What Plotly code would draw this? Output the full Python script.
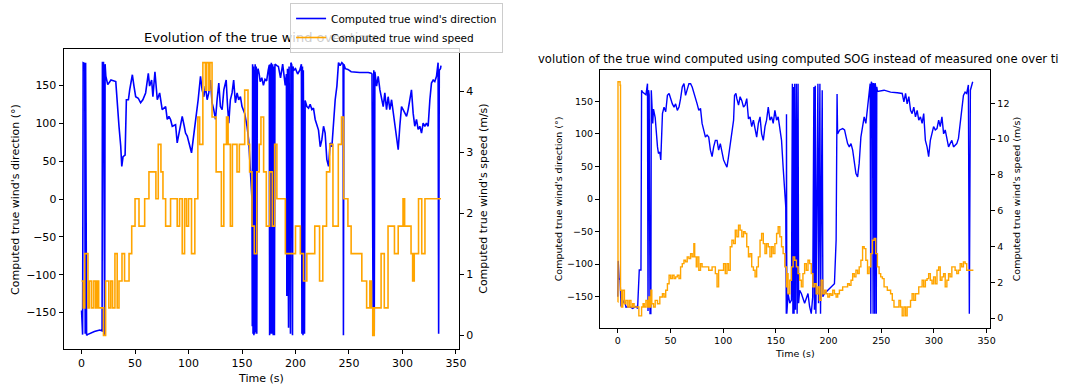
import plotly.graph_objects as go

# ---------------- Left chart: true wind (measured SOG) ----------------
left_dir_t = [0,1,1.5,3,3.4,3.8,4.7,5.5,12,17,
19.2,19.5,20.5,21,21.6,22,22.7,24.5,27.5,32,
33.5,35,36.6,37.6,38.8,40.7,41.9,43.8,45,47.5,
49,50.6,53,55.2,57.3,59.9,62.4,63.6,65.5,66.7,
68.6,70.8,73,75.4,78.6,80.1,81.7,83.2,84.8,87.9,
89.4,91,92.6,94.1,96,97.2,98.8,100.9,102.8,104.3,
106.5,108,109,111.2,112.7,114.3,115.8,117.4,118.9,120.5,
122,123.6,125.2,126.7,128.3,129.8,131.4,133,135.2,136.3,
137.6,139.1,140.7,142.2,143.8,145.4,146.9,148.5,150,152.5,
154.7,156.2,157.8,159.3,159.6,159.9,160.3,160.7,161.1,161.5,
161.9,162.3,162.8,163.3,163.8,164.3,165,166,167,168.5,
170,171.5,173,174.5,175.5,175.8,176.3,176.9,177.4,178,
178.6,179.2,179.8,180.3,180.8,182.6,184,186,188,190.4,
191.5,191.9,192.5,193.5,194,195.3,195.7,196.5,197.2,197.6,
198.5,200,202,204,205.5,206,206.5,207,207.3,208.4,
209,210.6,212.2,213.7,215.3,216.8,218.4,221.5,223.1,224.6,
226.2,227.7,229.3,230.9,232.4,234,235.5,237.1,238.7,239.6,
240.2,241.7,243.3,244.5,244.8,245.2,246.6,249,252,256,
260,265,268,270.8,271.5,272.6,273.2,273.6,274.2,275.8,
277.3,278.9,280.4,282,283.5,285.1,286.6,288.2,289.8,292.9,
294.4,296,297.5,299.1,300.6,302.2,303.8,305.3,306.9,308.4,
310,311.5,313.1,314.6,316.2,317.8,319.3,320.9,322.4,324,
325.6,327.1,328.7,330.2,331.8,333.3,333.8,334.4,335.5,336]

left_dir_deg = [-147,-179,180,179,-178,180,-180,-179,-175,-173,
-174,180,180,-180,-180,178,162,151,157,155,
122,96,70,43,56,58,131,131,144,164,
149,135,133,127,131,140,166,149,157,135,
168,131,140,118,122,105,109,105,96,98,
74,87,100,109,96,87,83,69,61,78,
100,118,131,162,144,135,149,131,140,157,
127,118,105,131,153,122,118,144,157,127,
100,131,140,157,127,140,131,135,122,113,
96,78,34,0,-168,178,-178,175,-180,170,
-178,178,-176,175,-178,165,172,165,155,160,
150,158,156,170,177,-180,178,-178,180,-178,
178,-180,175,-180,178,176,175,160,178,150,
165,-128,172,-170,175,-178,180,177,-180,175,
170,172,165,170,178,-178,175,-180,170,-178,
130,122,120,125,118,120,105,91,69,78,
96,87,52,43,74,69,100,131,149,168,
180,176,180,178,-180,178,172,171,168,167,
167,167,167,166,165,-180,170,-178,168,149,
162,144,131,122,140,118,135,118,131,96,
83,65,96,122,118,113,109,118,135,144,
113,96,105,92,96,87,100,96,100,96,
131,153,157,155,162,180,-178,170,172,176]

left_spd_t = [0,1.6,3.0,6.0,7.5,9.5,11.5,13.3,14.5,16,
20.5,22.5,25.5,27.3,29,31.2,33.3,35,37.8,40.2,
44.4,46.9,50,53.7,59,63,69.5,71.7,74.2,76.1,
78.6,83.2,89.4,91.6,94.1,96.3,98.1,100,102.8,105.9,
108.7,110.4,113.4,115.8,117,119,120,122,125.8,130.7,
133,135.5,137,139.1,141,145.3,147.5,152.5,155.6,157.1,
159.3,161.5,163.8,166.1,167.7,170.2,172.7,175.8,178.3,180.5,
182.6,190.5,200,204.5,207.5,210.6,218,222.5,225.5,229,
232,235,240,243,245,249,252,262,266.5,269.5,
271,272.2,273.6,280,283,286.5,292.5,296,300.5,302,
308,309.5,311,315,318,321,336]

left_spd = [0.89,0.45,1.34,0.45,0.89,0.45,0.89,0.45,0.89,0.45,
0,0.89,0.45,0.89,0.45,1.34,0.45,0.89,1.34,0.89,
1.34,1.79,2.24,1.79,2.24,2.68,2.24,3.13,2.68,2.24,
1.79,2.24,1.79,2.24,1.34,2.24,1.79,2.24,1.34,2.24,
3.58,3.13,4.47,4.02,4.47,4.02,4.47,3.58,2.68,1.79,
3.13,3.58,3.13,1.79,3.13,2.68,3.13,4.02,3.13,2.68,
1.79,1.34,2.68,3.13,3.58,2.68,1.79,2.68,1.79,3.13,
2.24,1.34,1.79,1.34,0.89,1.34,1.79,0.89,1.79,2.68,
3.13,1.79,3.13,3.58,2.24,1.79,1.34,0.89,0.45,0.89,
0.45,0,0.45,1.34,0.45,1.79,1.34,1.79,2.24,1.79,
1.34,0.89,1.34,2.24,1.34,2.24,2.24]

# ---------------- Right chart: true wind (computed SOG) ----------------
right_dir_t = [0,0.4,1.2,2.2,3.1,4.7,6.3,7.8,11,14.1,
17.3,18.8,20.4,22,22.6,23.5,25.1,26.7,28.2,28.7,
29.2,29.8,30.6,31.4,31.8,32.3,33.2,33.9,35.5,37.7,
38.6,39.9,40.8,42.4,43.9,45.5,47.1,48.7,50.2,51.8,
53.4,54.9,56.5,58.1,59.6,61.2,62.8,64.3,67.5,69.1,
70.6,72.2,73.8,75.3,76.9,78.5,80,81.6,83.2,84.7,
86.3,87.9,89.5,91,92.6,94.2,95.7,97.3,98.9,100.4,
102,103.6,105.1,106.7,108.3,109.9,110.8,112.1,113,114.6,
116.1,117.7,119.3,120.8,122.4,124,125.5,127.1,128.7,130.3,
131.8,133.4,135,136.5,138.1,139.7,141.2,142.8,144.4,146,
147.5,149.1,150.7,152.2,153.8,155.4,156.9,158.5,159.4,159.9,
160.1,160.4,161.6,163.2,164.8,165.7,166.2,166.7,167.3,167.9,
168.6,169.5,170.2,171.1,171.6,172.6,174.2,177.3,180.5,182,
183.6,185,186.1,186.6,187.4,188,189.9,190.5,191.8,192.4,
194,194.6,196.2,199.3,202.4,205.6,207.2,208.1,208.6,210.6,
213.4,215.2,216.7,218.1,219.7,221.3,222.9,224.4,226,227.6,
229.1,230.7,232.3,233.8,235.4,236.4,237,238.5,239.5,240.1,
240.6,241.7,242.3,242.6,243.3,243.8,244.2,244.8,245.3,245.8,
246.4,252.7,258.9,265.2,269.9,271.5,273.1,274.6,276.2,277.8,
279.3,280.9,282.5,284.1,285.6,287.2,288.8,290.3,291.9,293.5,
295,296.6,298.2,299.7,301.3,302.9,304.5,306,307.6,309.2,
310.7,312.3,313.9,315.4,317,318.6,320.1,321.7,323.3,324.9,
326.4,328,329.6,331.1,332.7,333.6,334.6,335.8,336.8]

right_dir_deg = [-150,-95,-122,-124,-165,-160,-155,-166,-165,-168,
-165,-168,-109,-109,167,164,162,160,177,-172,
167,160,-176,-176,167,140,116,138,125,80,
70,72,60,131,141,134,159,162,154,146,
141,146,136,141,154,172,177,159,177,177,
172,164,154,146,136,139,116,106,95,98,
95,75,65,80,90,90,75,85,70,60,
54,49,65,85,106,121,159,162,154,144,
157,151,141,144,154,123,126,111,121,106,
95,116,126,100,90,111,121,141,121,126,
116,136,121,126,106,90,49,14,-12,-176,
130,-176,-145,-160,-155,177,-176,172,-176,177,
-170,177,-176,177,-160,-140,-145,-160,-145,-165,
-176,-150,172,-170,174,-176,177,-160,177,-176,
167,-150,-145,-140,-135,-130,-63,161,100,106,
108,106,95,85,80,85,75,60,39,34,
55,95,111,126,116,131,141,160,177,-176,
180,175,-176,178,172,-176,178,172,-176,172,
165,167,164,163,162,149,162,146,157,136,
131,141,126,136,121,126,116,131,90,80,
65,90,100,111,106,108,121,111,126,100,
106,95,80,85,90,80,82,85,93,116,
141,159,164,162,175,-176,167,177,180]

right_spd_t = [0,0.2,1.5,2.2,2.6,3.5,4.7,6.3,7.8,9.5,
11,12.5,14.1,15.5,20,22,22.6,24,25.1,26.7,
28.2,29.5,30.6,31.4,32.3,33.9,35.5,37.7,39.9,42.4,
43.9,45.5,47.1,48.7,50.2,51.8,53.4,54.9,56.5,58.1,
59.6,61.2,62.8,64.3,65.9,67.5,69.1,70.6,72.2,73,
74.5,75.3,76.9,78.5,80,83.2,86.3,89.5,92.6,94.2,
95.7,98.9,100.4,102,103.6,105.1,106.7,108.3,109.9,111.5,
113,114.6,116.1,117.7,119.3,120.8,122.4,124,125.5,127.1,
128.7,130.3,131.8,133.4,135,136.5,138.1,139.7,141.2,142.8,
144.4,146,147.5,149.1,150.7,152.2,153.8,155.4,156.9,158.5,
160.1,160.9,161.6,163.2,164.8,166.4,167.9,169.5,171.1,172.6,
174.2,175.7,177.3,178.9,180.5,182,183.6,185.1,186.7,188.3,
189.9,191.4,193,194.6,196.2,197.7,199.3,200.9,202.4,204,
205.6,207.2,208.7,210.3,213.4,216.6,218.1,219.7,221.3,222.9,
224.4,226,227.6,229.1,230.7,232.3,233.8,235.4,237,238.5,
240.1,241.7,243.3,244.8,246.4,248,249.5,251.1,252.7,255.8,
258.9,260.5,262.1,265.2,266.8,268.3,269.9,271.5,273.1,274.6,
277.8,279.3,280.9,282.5,285.6,288.8,290.3,291.9,293.5,295,
296.6,298.2,299.7,301.3,302.9,304.5,306,307.6,309.2,310.7,
312.3,313.9,315.4,317,320.1,321.7,323.3,324.9,326.4,328,
329.6,331.1,334.6,336.8]

right_spd = [0.9,13.2,13.2,13.0,1.55,0.62,1.55,0.8,0.99,0.62,
0.99,0.62,0.8,0.62,0.12,0.12,0.62,0.8,0.62,0.99,
0.62,1.18,0.62,1.55,0.8,0.62,0.99,0.8,1.18,1.36,
1.18,1.55,1.92,2.39,2.2,2.39,2.2,2.3,2.39,2.2,
2.86,3.04,3.23,3.14,3.42,3.32,3.6,3.42,4.16,3.42,
2.86,3.42,2.67,3.04,2.86,2.86,2.67,2.86,2.48,1.74,
2.67,2.67,3.04,2.48,3.04,2.67,3.98,4.35,4.16,4.91,
4.54,5.19,4.91,4.54,4.82,4.72,3.98,3.42,3.6,2.86,
2.67,2.3,2.86,3.42,4.35,4.72,4.16,3.6,4.16,3.98,
3.42,3.98,3.6,4.16,4.72,5.1,4.54,3.98,3.6,2.86,
1.74,2.48,1.36,2.11,2.86,3.42,3.23,2.86,2.48,2.11,
1.74,2.48,3.04,2.67,3.23,3.04,2.48,1.74,1.92,1.36,
1.74,0.99,2.11,1.36,1.55,1.36,1.18,1.36,1.27,1.55,
1.36,1.18,1.36,1.55,1.74,1.74,1.92,1.83,2.11,2.48,
2.3,2.67,2.48,2.86,3.23,3.98,3.88,3.23,2.48,2.86,
3.6,4.35,4.44,3.6,2.86,2.48,2.3,2.2,1.74,1.55,
1.36,0.99,0.62,0.62,0.99,0.62,0.12,0.62,0.12,0.62,
0.99,1.36,0.99,1.36,1.74,2.11,1.74,2.11,2.2,2.48,
2.11,1.92,2.3,1.92,2.67,2.86,2.11,2.3,2.48,1.74,
2.11,2.48,2.3,2.86,2.67,2.48,2.67,3.04,2.86,3.14,
3.04,2.67,2.67,2.71]

assert len(left_dir_t) == len(left_dir_deg)
assert len(left_spd_t) == len(left_spd)
assert len(right_dir_t) == len(right_dir_deg)
assert len(right_spd_t) == len(right_spd)

# ticks
time_ticks = [0, 50, 100, 150, 200, 250, 300, 350]
deg_ticks = [-150, -100, -50, 0, 50, 100, 150]
deg_tick_text = [str(v).replace("-", "\u2212") for v in deg_ticks]
left_spd_ticks = [0, 1, 2, 3, 4]
right_spd_ticks = [0, 2, 4, 6, 8, 10, 12]

DIR_NAME = "Computed true wind's direction"
SPD_NAME = "Computed true wind speed"
DIR_LABEL = "Computed true wind's direction (°)"
SPD_LABEL = "Computed true wind's speed (m/s)"
TITLE_LEFT = "Evolution of the true wind over time"
TITLE_RIGHT = "volution of the true wind computed using computed SOG instead of measured one over ti"

W, H = 1065, 386
FONT = "DejaVu Sans"
BLUE = "#0000ff"
ORANGE = "#ffa500"

def px_x(x):
    return x / W

def px_y(y):
    return 1 - y / H

fig = go.Figure()
fig.add_trace(go.Scatter(x=left_dir_t, y=left_dir_deg, mode="lines", name=DIR_NAME,
                         line=dict(color=BLUE, width=1.6), xaxis="x", yaxis="y"))
fig.add_trace(go.Scatter(x=left_spd_t, y=left_spd, mode="lines", name=SPD_NAME,
                         line=dict(color=ORANGE, width=1.6, shape="hv"), xaxis="x", yaxis="y2"))
fig.add_trace(go.Scatter(x=right_dir_t, y=right_dir_deg, mode="lines", showlegend=False,
                         line=dict(color=BLUE, width=1.4), xaxis="x2", yaxis="y3"))
fig.add_trace(go.Scatter(x=right_spd_t, y=right_spd, mode="lines", showlegend=False,
                         line=dict(color=ORANGE, width=1.4, shape="hv"), xaxis="x2", yaxis="y4"))

axis_common = dict(showgrid=False, zeroline=False, showline=True, linecolor="black", linewidth=1,
                   ticks="outside", ticklen=4, tickcolor="black", tickwidth=1)

L_BOX = (64, 462, 49, 349)   # left, right, top, bottom in px
R_BOX = (604, 997, 70, 328)

fig.update_layout(
    width=W, height=H,
    margin=dict(l=0, r=0, t=0, b=0),
    paper_bgcolor="white", plot_bgcolor="white",
    font=dict(family=FONT, color="black"),
    xaxis=dict(domain=[px_x(L_BOX[0]), px_x(L_BOX[1])], anchor="y", range=[-16.8, 352.8],
               tickvals=time_ticks, mirror=True, tickfont=dict(size=11), **axis_common),
    yaxis=dict(domain=[px_y(L_BOX[3]), px_y(L_BOX[2])], anchor="x", range=[-198, 198],
               tickvals=deg_ticks, ticktext=deg_tick_text, mirror=True, tickfont=dict(size=11), **axis_common),
    yaxis2=dict(overlaying="y", side="right", anchor="x", range=[-0.2235, 4.6935],
                tickvals=left_spd_ticks, tickfont=dict(size=11), **axis_common),
    xaxis2=dict(domain=[px_x(R_BOX[0]), px_x(R_BOX[1])], anchor="y3", range=[-16.84, 353.64],
                tickvals=time_ticks, mirror=True, tickfont=dict(size=9.5), **axis_common),
    yaxis3=dict(domain=[px_y(R_BOX[3]), px_y(R_BOX[2])], anchor="x2", range=[-198, 198],
                tickvals=deg_ticks, ticktext=deg_tick_text, mirror=True, tickfont=dict(size=9.5), **axis_common),
    yaxis4=dict(overlaying="y3", side="right", anchor="x2", range=[-0.555, 13.855],
                tickvals=right_spd_ticks, tickfont=dict(size=9.5), **axis_common),
    legend=dict(x=px_x(292), y=px_y(3), xanchor="left", yanchor="top",
                bgcolor="rgba(255,255,255,0.8)", bordercolor="#cccccc", borderwidth=1,
                font=dict(size=10.5, family=FONT), tracegroupgap=0),
    showlegend=True,
)

ann = [
    dict(text=TITLE_LEFT, x=px_x((L_BOX[0] + L_BOX[1]) / 2), y=px_y(37), font=dict(size=13)),
    dict(text=TITLE_RIGHT, x=px_x(540), y=px_y(59), xanchor="left", font=dict(size=11.6)),
    dict(text=DIR_LABEL, x=px_x(15), y=px_y((L_BOX[2] + L_BOX[3]) / 2), textangle=-90, font=dict(size=11)),
    dict(text=SPD_LABEL, x=px_x(486), y=px_y((L_BOX[2] + L_BOX[3]) / 2), textangle=-90, font=dict(size=11)),
    dict(text="Time (s)", x=px_x((L_BOX[0] + L_BOX[1]) / 2), y=px_y(378), font=dict(size=11)),
    dict(text=DIR_LABEL, x=px_x(562), y=px_y((R_BOX[2] + R_BOX[3]) / 2), textangle=-90, font=dict(size=9.5)),
    dict(text=SPD_LABEL, x=px_x(1023), y=px_y((R_BOX[2] + R_BOX[3]) / 2), textangle=-90, font=dict(size=9.5)),
    dict(text="Time (s)", x=px_x((R_BOX[0] + R_BOX[1]) / 2), y=px_y(353), font=dict(size=9.5)),
]
for a in ann:
    a.setdefault("xanchor", "center")
    fig.add_annotation(xref="paper", yref="paper", yanchor="middle", showarrow=False,
                       font_family=FONT, font_color="black", **{k: v for k, v in a.items() if k != "font"},
                       font_size=a["font"]["size"])

# remove the page margin and keep the legend drawn above the title (as in the reference)
POST = ("document.body.style.margin='0px';document.body.style.overflow='hidden';"
        "var lg=document.querySelector('g.legend');if(lg){lg.parentNode.appendChild(lg);}")

fig.write_html("out.html", post_script=POST, config={"displayModeBar": False})
